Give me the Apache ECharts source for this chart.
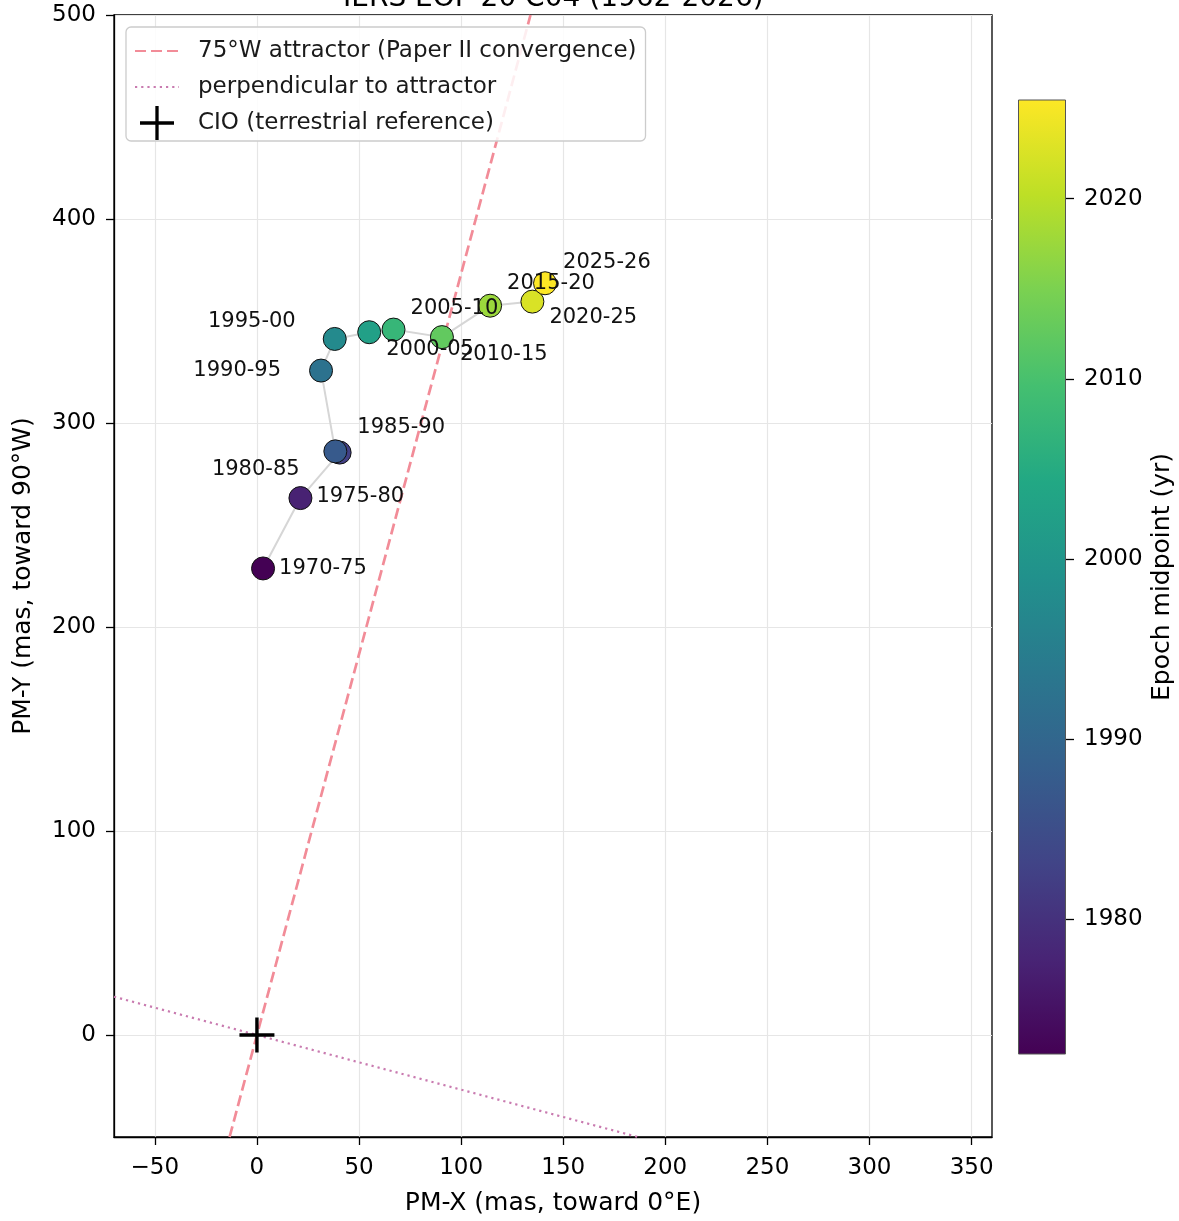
<!DOCTYPE html>
<html><head><meta charset="utf-8">
<script src="https://cdn.jsdelivr.net/npm/echarts@6/dist/echarts.min.js"></script>
<style>html,body{margin:0;padding:0;background:#fff}#c{width:1179px;height:1221px}</style>
</head><body><div id="c"></div>
<script>
// ---------- data ----------
const epochLabels = ['1970-75','1975-80','1980-85','1985-90','1990-95','1995-00','2000-05','2005-10','2010-15','2015-20','2020-25','2025-26'];
const epochMid = [1972.5,1977.5,1982.5,1987.5,1992.5,1997.5,2002.5,2007.5,2012.5,2017.5,2022.5,2025.5];
const pmX = [3.0, 21.3, 40.5, 38.4, 31.4, 38.1, 55.0, 66.9, 90.6, 114.2, 134.9, 141.1];
const pmY = [228.7, 263.2, 285.5, 286.1, 325.7, 341.2, 344.5, 345.8, 342.1, 357.5, 359.5, 368.5];
const xTicks = [-50, 0, 50, 100, 150, 200, 250, 300, 350];
const yTicks = [0, 100, 200, 300, 400, 500];
const cbTicks = [1980, 1990, 2000, 2010, 2020];
const attractorLonDeg = 75;
const cioPoint = [0, 0];
const viridis = ['#440154','#482475','#414487','#355f8d','#2a788e','#21918c','#22a884','#44bf70','#7ad151','#bddf26','#fde725'];

// ---------- layout / style ----------
const X_MIN = -70, X_MAX = 360, Y_MIN = -50, Y_MAX = 500, C_MIN = 1972.5, C_MAX = 2025.5;
const FONT = 'DejaVu Sans';
const labelPlacement = {
  '1970-75': ['left', 16, 0],
  '1975-80': ['left', 16, -2],
  '1980-85': ['right', -40, 17],
  '1985-90': ['left', 22, -24],
  '1990-95': ['right', -40, 0],
  '1995-00': ['right', -39, -17],
  '2000-05': ['left', 17, 17],
  '2005-10': ['left', 17, -21],
  '2010-15': ['left', 18, 17],
  '2015-20': ['left', 17, -22],
  '2020-25': ['left', 17, 16],
  '2025-26': ['left', 18, -21]
};

const th = attractorLonDeg * Math.PI / 180;
const dX = Math.cos(th), dY = Math.sin(th);
const attractorLine = [[Y_MIN * dX / dY, Y_MIN], [Y_MAX * dX / dY, Y_MAX]];
const perpSlope = -dX / dY;
const perpLine = [[X_MIN, X_MIN * perpSlope], [Y_MIN / perpSlope, Y_MIN]];

const minus = v => (v < 0 ? '\u2212' + Math.abs(v) : String(v));

const trackData = pmX.map((x, i) => [x, pmY[i]]);
const epochData = epochLabels.map((lab, i) => {
  const p = labelPlacement[lab];
  return {
    name: lab,
    value: [pmX[i], pmY[i], epochMid[i]],
    label: { align: p[0], offset: [p[1], p[2]] }
  };
});

const gradStops = viridis.map((c, i) => ({ offset: i / (viridis.length - 1), color: c }));

const NAME_ATTR = '75°W attractor (Paper II convergence)';
const NAME_PERP = 'perpendicular to attractor';
const NAME_CIO = 'CIO (terrestrial reference)';

const tickStyle = { color: '#000', width: 1.3 };
const tickLabelStyle = { fontFamily: FONT, fontSize: 23, color: '#000' };
const nameStyle = { fontFamily: FONT, fontSize: 25, color: '#000' };
const ATTR_COLOR = '#f28c98', PERP_COLOR = '#c97bb0';
const PLUS_PATH = 'path://M0,32.5 L72,32.5 L72,39.5 L0,39.5 Z M32.5,0 L39.5,0 L39.5,72 L32.5,72 Z';

const option = {
  animation: false,
  backgroundColor: '#fff',
  textStyle: { fontFamily: FONT },
  title: {
    text: 'IERS EOP 20 C04 (1962-2026)',
    left: 343, top: -15, padding: 0,
    textStyle: { fontFamily: FONT, fontSize: 28, fontWeight: 'normal', color: '#000' }
  },
  legend: {
    data: [NAME_ATTR, NAME_PERP, { name: NAME_CIO, icon: PLUS_PATH, itemStyle: { color: '#000', opacity: 1 } }],
    orient: 'vertical',
    left: 126, top: 27,
    itemWidth: 44, itemHeight: 34, itemGap: 0,
    padding: [6, 9, 0, 8],
    backgroundColor: 'rgba(255,255,255,0.85)',
    borderColor: '#cccccc', borderWidth: 1.3, borderRadius: 5,
    textStyle: { fontFamily: FONT, fontSize: 23, lineHeight: 36, color: '#1a1a1a', padding: [0, 0, 0, 14] },
    selectedMode: false
  },
  grid: [
    { left: 114, top: 15, width: 878, height: 1124, show: true, borderColor: '#000', borderWidth: 1.3, backgroundColor: 'rgba(0,0,0,0)' },
    { left: 1018, top: 99.5, width: 48, height: 955 }
  ],
  visualMap: {
    type: 'continuous', show: false, seriesIndex: 3, dimension: 2,
    min: C_MIN, max: C_MAX, inRange: { color: viridis }
  },
  xAxis: [
    {
      type: 'value', gridIndex: 0, min: X_MIN, max: X_MAX,
      name: 'PM-X (mas, toward 0°E)', nameLocation: 'middle', nameGap: 54,
      nameTextStyle: nameStyle,
      axisLine: { show: true, onZero: false, lineStyle: tickStyle },
      axisTick: { show: true, customValues: xTicks, length: 8, lineStyle: tickStyle },
      axisLabel: { customValues: xTicks, formatter: minus, margin: 20, ...tickLabelStyle },
      splitLine: { show: true, lineStyle: { color: '#e6e6e6', width: 1.2 } }
    },
    { type: 'category', gridIndex: 1, data: ['cb'], show: false }
  ],
  yAxis: [
    {
      type: 'value', gridIndex: 0, min: Y_MIN, max: Y_MAX,
      name: 'PM-Y (mas, toward 90°W)', nameLocation: 'middle', nameGap: 78,
      nameTextStyle: nameStyle,
      axisLine: { show: true, onZero: false, lineStyle: tickStyle },
      axisTick: { show: true, customValues: yTicks, length: 8, lineStyle: tickStyle },
      axisLabel: { customValues: yTicks, formatter: minus, margin: 18, ...tickLabelStyle },
      splitLine: { show: true, lineStyle: { color: '#e6e6e6', width: 1.2 } }
    },
    {
      type: 'value', gridIndex: 1, position: 'right', min: C_MIN, max: C_MAX,
      name: 'Epoch midpoint (yr)', nameLocation: 'middle', nameGap: 84,
      nameTextStyle: nameStyle,
      axisLine: { show: false },
      axisTick: { show: true, customValues: cbTicks, length: 8, lineStyle: tickStyle },
      axisLabel: { customValues: cbTicks, formatter: v => String(v), margin: 18, ...tickLabelStyle },
      splitLine: { show: false }
    }
  ],
  series: [
    {
      type: 'line', name: 'track', data: trackData, symbol: 'none', silent: true, z: 1,
      lineStyle: { color: '#d6d6d6', width: 2 }
    },
    {
      type: 'line', name: NAME_ATTR, data: attractorLine, symbol: 'none', silent: true, z: 2,
      itemStyle: { color: 'rgba(0,0,0,0)' },
      lineStyle: { color: ATTR_COLOR, width: 2.7, type: [11, 5] }
    },
    {
      type: 'line', name: NAME_PERP, data: perpLine, symbol: 'none', silent: true, z: 2,
      itemStyle: { color: 'rgba(0,0,0,0)' },
      lineStyle: { color: PERP_COLOR, width: 2.2, type: [2.2, 4] }
    },
    {
      type: 'scatter', name: 'epochs', data: epochData, symbolSize: 23, z: 3,
      itemStyle: { borderColor: '#111', borderWidth: 1, opacity: 1 },
      label: {
        show: true, position: 'inside', verticalAlign: 'middle', formatter: '{b}',
        fontFamily: FONT, fontSize: 21, color: '#111'
      }
    },
    {
      type: 'scatter', name: NAME_CIO, data: [cioPoint], z: 4,
      symbol: PLUS_PATH, symbolSize: 35, symbolKeepAspect: true,
      itemStyle: { color: '#000', opacity: 1 }
    },
    {
      type: 'bar', xAxisIndex: 1, yAxisIndex: 1, stack: 'cb', data: [C_MIN], silent: true,
      barWidth: '100%', itemStyle: { color: 'rgba(0,0,0,0)' }
    },
    {
      type: 'bar', xAxisIndex: 1, yAxisIndex: 1, stack: 'cb', data: [C_MAX - C_MIN], silent: true,
      barWidth: '100%',
      itemStyle: {
        color: { type: 'linear', x: 0, y: 1, x2: 0, y2: 0, colorStops: gradStops },
        borderColor: '#555', borderWidth: 1
      }
    }
  ]
};

const chart = echarts.init(document.getElementById('c'), null, { renderer: 'canvas' });
chart.setOption(option);
</script>
</body></html>
